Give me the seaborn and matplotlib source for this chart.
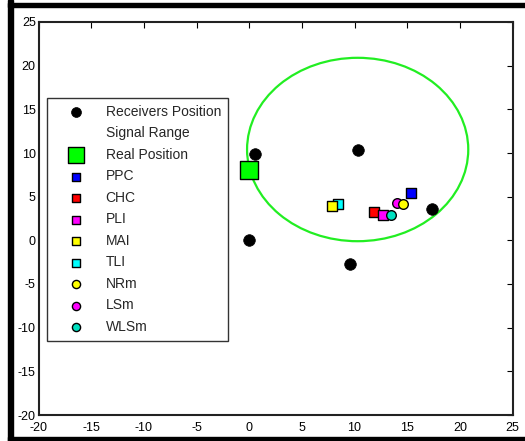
import matplotlib
matplotlib.use("Agg")
import matplotlib.pyplot as plt
from matplotlib.patches import Circle, Rectangle
from matplotlib.lines import Line2D
import seaborn as sns

sns.set_style("white")
plt.rcParams["font.family"] = ["Liberation Sans", "DejaVu Sans"]
plt.rcParams["axes.unicode_minus"] = False

# Receiver locations
rx_x = [0.6, 10.3, 0.0, 9.6, 17.4]
rx_y = [9.9, 10.4, 0.0, -2.7, 3.6]

# Signal range of the central receiver
range_center = (10.3, 10.4)
range_radius = 10.5

# Ground truth
real_x = [0.0]
real_y = [8.0]

# Estimated positions per method
methods = ["PPC", "CHC", "PLI", "MAI", "TLI", "NRm", "LSm", "WLSm"]
est_x = [15.4, 11.85, 12.7, 7.9, 8.45, 14.65, 14.05, 13.45]
est_y = [5.45, 3.25, 2.9, 3.95, 4.2, 4.2, 4.3, 2.95]
est_color = ["#0000ff", "#ff0000", "#ff00ff", "#ffff00", "#00ffff",
             "#ffff00", "#ff00ff", "#00e0c0"]
est_marker = ["s", "s", "s", "s", "s", "o", "o", "o"]
est_z = [6, 5, 6, 7, 6, 7, 6, 6]

xticks = [-20, -15, -10, -5, 0, 5, 10, 15, 20, 25]
yticks = [-20, -15, -10, -5, 0, 5, 10, 15, 20, 25]

fig = plt.figure(figsize=(5.25, 4.41), dpi=100)
ax = fig.add_axes([38.5 / 525, 1 - 415 / 441, 474 / 525, 393 / 441])

sns.scatterplot(x=rx_x, y=rx_y, ax=ax, color="black", marker="o", s=70,
                edgecolor="black", linewidth=0.5, label="Receivers Position",
                zorder=4)

ax.add_patch(Circle(range_center, range_radius, fill=False,
                    edgecolor="#22ee22", linewidth=1.6, zorder=3))

sns.scatterplot(x=real_x, y=real_y, ax=ax, color="#00ff00", marker="s", s=170,
                edgecolor="black", linewidth=1.0, label="Real Position",
                zorder=5)

for name, x, y, c, m, z in zip(methods, est_x, est_y, est_color, est_marker, est_z):
    sns.scatterplot(x=[x], y=[y], ax=ax, color=c, marker=m, s=48,
                    edgecolor="black", linewidth=1.0, label=name, zorder=z)

ax.set_xlim(-20, 25)
ax.set_ylim(-20, 25)
ax.set_xticks(xticks)
ax.set_yticks(yticks)
ax.tick_params(direction="in", length=4, width=0.8, top=True, right=True,
               labelsize=9, colors="black")
ax.tick_params(axis="x", pad=5)
ax.tick_params(axis="y", pad=2)
for s in ax.spines.values():
    s.set_visible(True)
    s.set_color("#222222")
    s.set_linewidth(1.5)

handles, labels = ax.get_legend_handles_labels()
range_handle = Line2D([], [], linestyle="none", marker=None)
handles = [handles[0], range_handle] + handles[1:]
labels = [labels[0], "Signal Range"] + labels[1:]
leg = ax.legend(handles, labels, loc="upper left",
                bbox_to_anchor=(8 / 474, 1 - 76 / 393), fontsize=10,
                frameon=True, fancybox=False, edgecolor="black",
                labelspacing=0.54, handletextpad=0.45, borderpad=0.5,
                handlelength=3.3, borderaxespad=0, markerscale=0.85)
leg.get_frame().set_linewidth(1.0)

# Heavy frame around the figure
fig.patches.append(Rectangle((8 / 525, 0), 5 / 525, 1, transform=fig.transFigure,
                             color="black", zorder=10))
fig.patches.append(Rectangle((8 / 525, 1 - 7 / 441), 1, 4 / 441,
                             transform=fig.transFigure, color="black", zorder=10))
fig.patches.append(Rectangle((8 / 525, 0), 1, 4 / 441, transform=fig.transFigure,
                             color="black", zorder=10))

fig.savefig("out.png", dpi=100)
